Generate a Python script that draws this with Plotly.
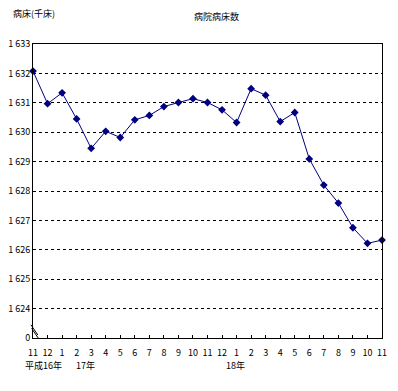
import plotly.graph_objects as go

months = ["11", "12", "1", "2", "3", "4", "5", "6", "7", "8", "9", "10", "11", "12",
          "1", "2", "3", "4", "5", "6", "7", "8", "9", "10", "11"]
beds = [1632.08, 1630.97, 1631.34, 1630.45, 1629.45, 1630.03, 1629.82, 1630.42,
        1630.57, 1630.87, 1631.01, 1631.14, 1631.01, 1630.76, 1630.33, 1631.48,
        1631.26, 1630.36, 1630.67, 1629.09, 1628.20, 1627.59, 1626.75, 1626.22,
        1626.33]
y_tickvals = [1623, 1624, 1625, 1626, 1627, 1628, 1629, 1630, 1631, 1632, 1633]
y_ticktext = ["0", "1 624", "1 625", "1 626", "1 627", "1 628", "1 629", "1 630",
              "1 631", "1 632", "1 633"]
year_labels = ["平成16年", "17年", "18年"]

FONT = "Noto Sans CJK JP"
xs = list(range(len(months)))

fig = go.Figure()
fig.add_trace(go.Scatter(
    x=xs, y=beds, mode="lines+markers",
    line=dict(color="#000080", width=1),
    marker=dict(symbol="diamond", size=6, color="#000080"),
    showlegend=False, cliponaxis=False,
))

# page body has an 8px default margin: compensate in size and margins
fig.update_layout(
    width=390, height=383,
    margin=dict(l=25, r=16, t=36, b=53),
    paper_bgcolor="white", plot_bgcolor="white",
    font=dict(family=FONT, size=9, color="black"),
    xaxis=dict(
        range=[0, 24], tickmode="array", tickvals=xs, ticktext=months,
        showgrid=False, zeroline=False, showline=True, linecolor="black",
        linewidth=1, mirror=True, ticks="inside", ticklen=3, tickcolor="black",
        tickfont=dict(size=9), tickangle=0, automargin=False,
        ticklabelstandoff=6,
    ),
    yaxis=dict(
        range=[1623, 1633], tickmode="array", tickvals=y_tickvals,
        ticktext=y_ticktext, showgrid=True, gridcolor="black", gridwidth=1,
        griddash="3px,3px", zeroline=False, showline=True, linecolor="black",
        linewidth=1, mirror=True, ticks="", tickfont=dict(size=9),
        automargin=False,
    ),
    annotations=[
        dict(text="病床(千床)", xref="paper", yref="paper", x=-0.063, y=1.105,
             xanchor="left", yanchor="middle", showarrow=False,
             font=dict(size=9)),
        dict(text="病院病床数", xref="paper", yref="paper", x=0.527, y=1.093,
             xanchor="center", yanchor="middle", showarrow=False,
             font=dict(size=9)),
        dict(text=year_labels[0], xref="paper", yref="paper", x=0.029, y=-0.092,
             xanchor="center", yanchor="middle", showarrow=False,
             font=dict(size=9)),
        dict(text=year_labels[1], xref="paper", yref="paper", x=0.149, y=-0.092,
             xanchor="center", yanchor="middle", showarrow=False,
             font=dict(size=9)),
        dict(text=year_labels[2], xref="paper", yref="paper", x=0.579, y=-0.092,
             xanchor="center", yanchor="middle", showarrow=False,
             font=dict(size=9)),
    ],
    shapes=[
        dict(type="line", xref="paper", yref="y", x0=-0.006, y0=1623.45,
             x1=0.014, y1=1623.1, line=dict(color="black", width=1)),
        dict(type="line", xref="paper", yref="y", x0=-0.004, y0=1623.33,
             x1=0.016, y1=1622.98, line=dict(color="black", width=1)),
    ],
)

fig.write_html("out.html")
